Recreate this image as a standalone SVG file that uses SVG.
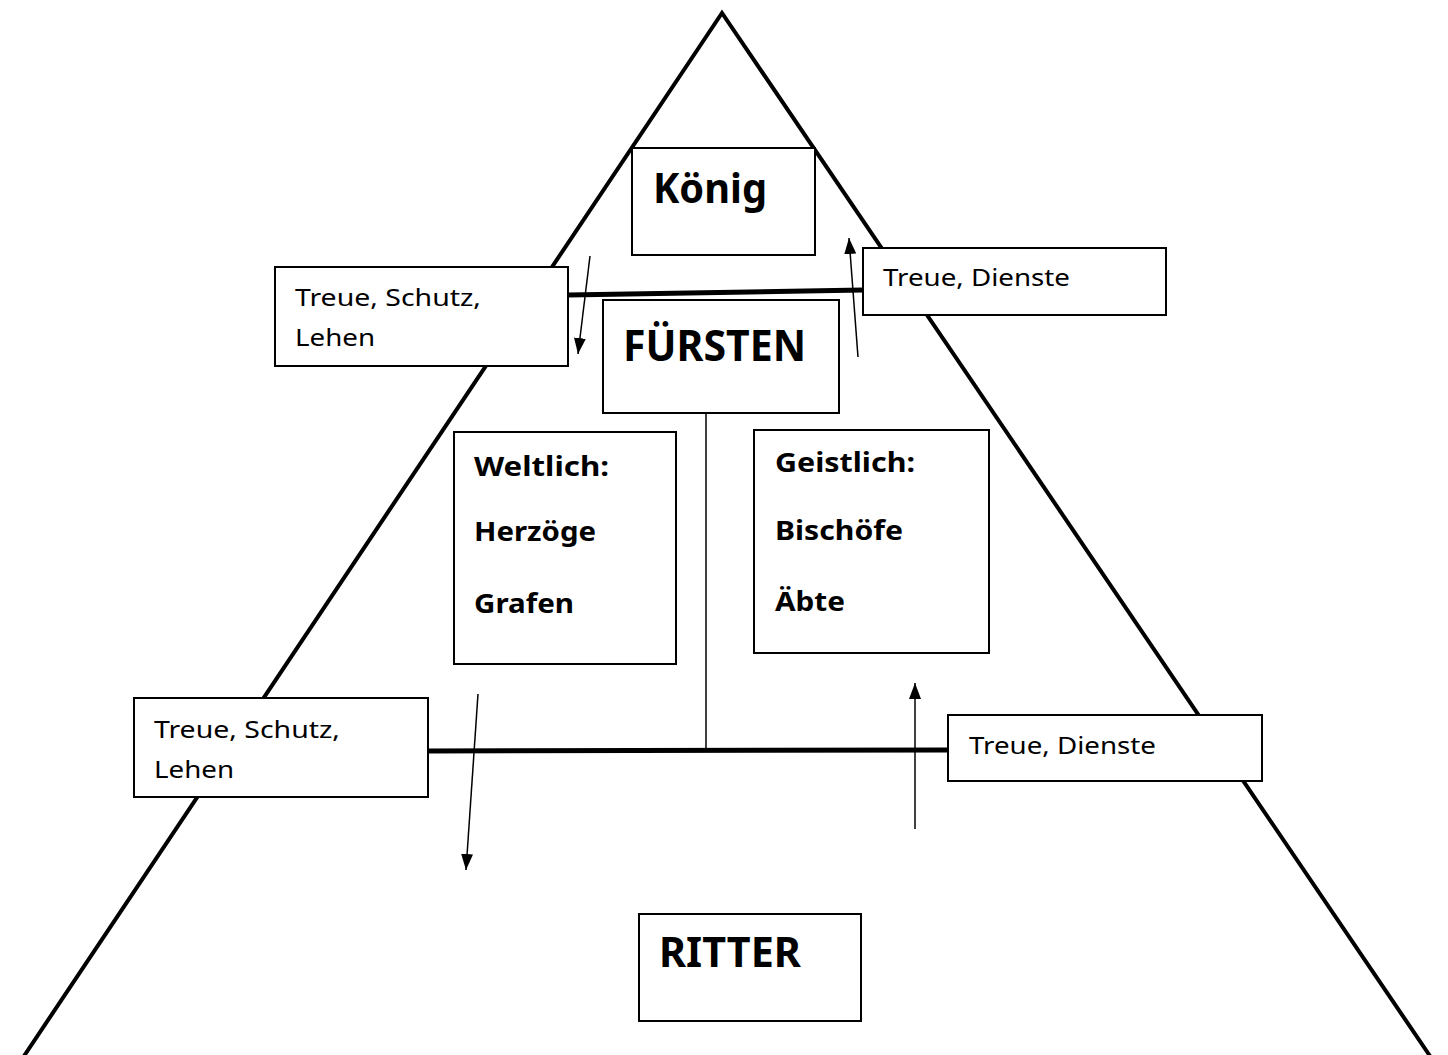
<svg xmlns="http://www.w3.org/2000/svg" width="1448" height="1055" viewBox="0 0 1448 1055">
<style>
.box{fill:#fff;stroke:#000;stroke-width:2}
.t{font-family:"Noto Sans","Open Sans",sans-serif;font-size:24px;fill:#000}
.b{font-family:"Noto Sans","Open Sans",sans-serif;font-weight:bold;fill:#000}
.thick{stroke:#000;stroke-width:5;fill:none}
.thin{stroke:#000;stroke-width:1.5;fill:none}
.arr{stroke:#000;stroke-width:1.5;fill:none;marker-end:url(#ah)}
</style>
<defs>
<marker id="ah" viewBox="0 0 16 12" refX="16" refY="6" markerWidth="16" markerHeight="12" markerUnits="userSpaceOnUse" orient="auto">
<path d="M0,0 L16,6 L0,12 Z" fill="#000"/>
</marker>
</defs>
<rect width="1448" height="1055" fill="#fff"/>
<g id="pyramid">
<polyline points="24,1056 722,13 1430,1056" fill="none" stroke="#000" stroke-width="4"/>
</g>
<g id="connectors">
<line class="thick" x1="568" y1="295" x2="863" y2="290"/>
<line class="thick" x1="428" y1="751" x2="948" y2="750"/>
<line class="thin" x1="706" y1="413" x2="706" y2="751"/>
<line class="arr" x1="590" y1="256" x2="578" y2="354"/>
<line class="arr" x1="858" y1="357" x2="849" y2="238"/>
<line class="arr" x1="478" y1="694" x2="466" y2="870"/>
<line class="arr" x1="915" y1="829" x2="915" y2="683"/>
</g>
<g id="koenig">
<rect class="box" x="632" y="148" width="183" height="107"/>
<text class="b" x="653" y="203" font-size="41" textLength="114" lengthAdjust="spacingAndGlyphs">König</text>
</g>
<g id="treue-dienste-oben">
<rect class="box" x="863" y="248" width="303" height="67"/>
<text class="t" x="883" y="286" textLength="187" lengthAdjust="spacingAndGlyphs">Treue, Dienste</text>
</g>
<g id="treue-schutz-oben">
<rect class="box" x="275" y="267" width="293" height="99"/>
<text class="t" x="295" y="306" textLength="186" lengthAdjust="spacingAndGlyphs">Treue, Schutz,</text>
<text class="t" x="295" y="346" textLength="80" lengthAdjust="spacingAndGlyphs">Lehen</text>
</g>
<g id="fuersten">
<rect class="box" x="603" y="300" width="236" height="113"/>
<text class="b" x="623" y="361" font-size="43" textLength="183" lengthAdjust="spacingAndGlyphs">FÜRSTEN</text>
</g>
<g id="weltlich">
<rect class="box" x="454" y="432" width="222" height="232"/>
<text class="b" x="474" y="476" font-size="27" textLength="135" lengthAdjust="spacingAndGlyphs">Weltlich:</text>
<text class="b" x="474" y="541" font-size="27" textLength="122" lengthAdjust="spacingAndGlyphs">Herzöge</text>
<text class="b" x="474" y="613" font-size="27" textLength="100" lengthAdjust="spacingAndGlyphs">Grafen</text>
</g>
<g id="geistlich">
<rect class="box" x="754" y="430" width="235" height="223"/>
<text class="b" x="775" y="472" font-size="27" textLength="140" lengthAdjust="spacingAndGlyphs">Geistlich:</text>
<text class="b" x="775" y="540" font-size="27" textLength="128" lengthAdjust="spacingAndGlyphs">Bischöfe</text>
<text class="b" x="775" y="611" font-size="27" textLength="70" lengthAdjust="spacingAndGlyphs">Äbte</text>
</g>
<g id="treue-schutz-unten">
<rect class="box" x="134" y="698" width="294" height="99"/>
<text class="t" x="154" y="738" textLength="186" lengthAdjust="spacingAndGlyphs">Treue, Schutz,</text>
<text class="t" x="154" y="778" textLength="80" lengthAdjust="spacingAndGlyphs">Lehen</text>
</g>
<g id="treue-dienste-unten">
<rect class="box" x="948" y="715" width="314" height="66"/>
<text class="t" x="969" y="754" textLength="187" lengthAdjust="spacingAndGlyphs">Treue, Dienste</text>
</g>
<g id="ritter">
<rect class="box" x="639" y="914" width="222" height="107"/>
<text class="b" x="659" y="967" font-size="41" textLength="142" lengthAdjust="spacingAndGlyphs">RITTER</text>
</g>
</svg>
